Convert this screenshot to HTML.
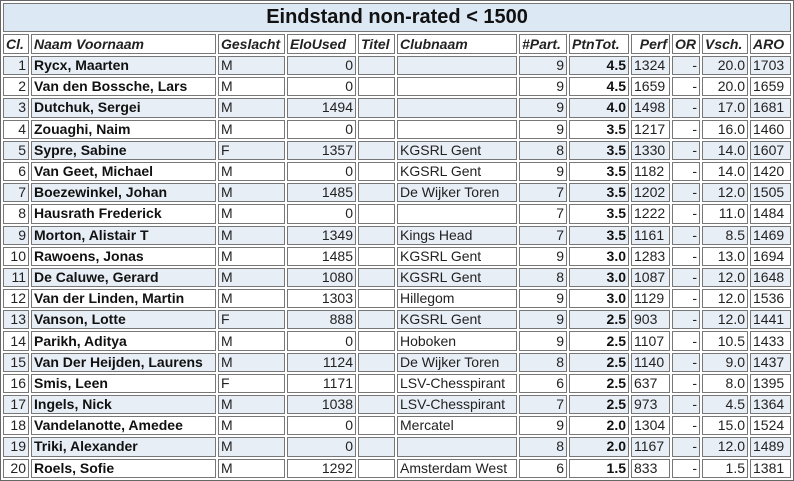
<!DOCTYPE html>
<html><head><meta charset="utf-8"><style>
body{margin:0;background:#fff;}
table{position:absolute;left:0;top:0;width:793px;border:1px solid #666;border-collapse:separate;border-spacing:2px;table-layout:fixed;font-family:"Liberation Sans",Arial,sans-serif;font-size:14px;color:#222;}
td,th{border:1px solid #777;box-sizing:border-box;height:19.2px;padding:0 2px;white-space:nowrap;overflow:hidden;line-height:17px;}
th{font-style:italic;font-weight:bold;text-align:left;background:#fff;height:20px;}
th.r{text-align:right}
.t{background:#dde8f5;font-size:20px;font-style:normal;text-align:center;height:29px;color:#111;}
tr.o td{background:#e8eef6;}
td.n{text-align:right}
td.b{font-weight:bold;color:#111}
</style></head><body>
<table>
<colgroup><col style="width:26px"><col style="width:185px"><col style="width:67px"><col style="width:69px"><col style="width:37px"><col style="width:120px"><col style="width:48px"><col style="width:60px"><col style="width:39px"><col style="width:28px"><col style="width:46px"><col style="width:41px"></colgroup>
<tr><th colspan="12" class="t">Eindstand non-rated &lt; 1500</th></tr>
<tr><th>Cl.</th><th>Naam Voornaam</th><th>Geslacht</th><th>EloUsed</th><th>Titel</th><th>Clubnaam</th><th>#Part.</th><th>PtnTot.</th><th class="r">Perf</th><th>OR</th><th>Vsch.</th><th>ARO</th></tr>
<tr class="o"><td class="n">1</td><td class="b">Rycx, Maarten</td><td>M</td><td class="n">0</td><td></td><td></td><td class="n">9</td><td class="n b">4.5</td><td>1324</td><td class="n">-</td><td class="n">20.0</td><td>1703</td></tr>
<tr><td class="n">2</td><td class="b">Van den Bossche, Lars</td><td>M</td><td class="n">0</td><td></td><td></td><td class="n">9</td><td class="n b">4.5</td><td>1659</td><td class="n">-</td><td class="n">20.0</td><td>1659</td></tr>
<tr class="o"><td class="n">3</td><td class="b">Dutchuk, Sergei</td><td>M</td><td class="n">1494</td><td></td><td></td><td class="n">9</td><td class="n b">4.0</td><td>1498</td><td class="n">-</td><td class="n">17.0</td><td>1681</td></tr>
<tr><td class="n">4</td><td class="b">Zouaghi, Naim</td><td>M</td><td class="n">0</td><td></td><td></td><td class="n">9</td><td class="n b">3.5</td><td>1217</td><td class="n">-</td><td class="n">16.0</td><td>1460</td></tr>
<tr class="o"><td class="n">5</td><td class="b">Sypre, Sabine</td><td>F</td><td class="n">1357</td><td></td><td>KGSRL Gent</td><td class="n">8</td><td class="n b">3.5</td><td>1330</td><td class="n">-</td><td class="n">14.0</td><td>1607</td></tr>
<tr><td class="n">6</td><td class="b">Van Geet, Michael</td><td>M</td><td class="n">0</td><td></td><td>KGSRL Gent</td><td class="n">9</td><td class="n b">3.5</td><td>1182</td><td class="n">-</td><td class="n">14.0</td><td>1420</td></tr>
<tr class="o"><td class="n">7</td><td class="b">Boezewinkel, Johan</td><td>M</td><td class="n">1485</td><td></td><td>De Wijker Toren</td><td class="n">7</td><td class="n b">3.5</td><td>1202</td><td class="n">-</td><td class="n">12.0</td><td>1505</td></tr>
<tr><td class="n">8</td><td class="b">Hausrath Frederick</td><td>M</td><td class="n">0</td><td></td><td></td><td class="n">7</td><td class="n b">3.5</td><td>1222</td><td class="n">-</td><td class="n">11.0</td><td>1484</td></tr>
<tr class="o"><td class="n">9</td><td class="b">Morton, Alistair T</td><td>M</td><td class="n">1349</td><td></td><td>Kings Head</td><td class="n">7</td><td class="n b">3.5</td><td>1161</td><td class="n">-</td><td class="n">8.5</td><td>1469</td></tr>
<tr><td class="n">10</td><td class="b">Rawoens, Jonas</td><td>M</td><td class="n">1485</td><td></td><td>KGSRL Gent</td><td class="n">9</td><td class="n b">3.0</td><td>1283</td><td class="n">-</td><td class="n">13.0</td><td>1694</td></tr>
<tr class="o"><td class="n">11</td><td class="b">De Caluwe, Gerard</td><td>M</td><td class="n">1080</td><td></td><td>KGSRL Gent</td><td class="n">8</td><td class="n b">3.0</td><td>1087</td><td class="n">-</td><td class="n">12.0</td><td>1648</td></tr>
<tr><td class="n">12</td><td class="b">Van der Linden, Martin</td><td>M</td><td class="n">1303</td><td></td><td>Hillegom</td><td class="n">9</td><td class="n b">3.0</td><td>1129</td><td class="n">-</td><td class="n">12.0</td><td>1536</td></tr>
<tr class="o"><td class="n">13</td><td class="b">Vanson, Lotte</td><td>F</td><td class="n">888</td><td></td><td>KGSRL Gent</td><td class="n">9</td><td class="n b">2.5</td><td>903</td><td class="n">-</td><td class="n">12.0</td><td>1441</td></tr>
<tr><td class="n">14</td><td class="b">Parikh, Aditya</td><td>M</td><td class="n">0</td><td></td><td>Hoboken</td><td class="n">9</td><td class="n b">2.5</td><td>1107</td><td class="n">-</td><td class="n">10.5</td><td>1433</td></tr>
<tr class="o"><td class="n">15</td><td class="b">Van Der Heijden, Laurens</td><td>M</td><td class="n">1124</td><td></td><td>De Wijker Toren</td><td class="n">8</td><td class="n b">2.5</td><td>1140</td><td class="n">-</td><td class="n">9.0</td><td>1437</td></tr>
<tr><td class="n">16</td><td class="b">Smis, Leen</td><td>F</td><td class="n">1171</td><td></td><td>LSV-Chesspirant</td><td class="n">6</td><td class="n b">2.5</td><td>637</td><td class="n">-</td><td class="n">8.0</td><td>1395</td></tr>
<tr class="o"><td class="n">17</td><td class="b">Ingels, Nick</td><td>M</td><td class="n">1038</td><td></td><td>LSV-Chesspirant</td><td class="n">7</td><td class="n b">2.5</td><td>973</td><td class="n">-</td><td class="n">4.5</td><td>1364</td></tr>
<tr><td class="n">18</td><td class="b">Vandelanotte, Amedee</td><td>M</td><td class="n">0</td><td></td><td>Mercatel</td><td class="n">9</td><td class="n b">2.0</td><td>1304</td><td class="n">-</td><td class="n">15.0</td><td>1524</td></tr>
<tr class="o"><td class="n">19</td><td class="b">Triki, Alexander</td><td>M</td><td class="n">0</td><td></td><td></td><td class="n">8</td><td class="n b">2.0</td><td>1167</td><td class="n">-</td><td class="n">12.0</td><td>1489</td></tr>
<tr><td class="n">20</td><td class="b">Roels, Sofie</td><td>M</td><td class="n">1292</td><td></td><td>Amsterdam West</td><td class="n">6</td><td class="n b">1.5</td><td>833</td><td class="n">-</td><td class="n">1.5</td><td>1381</td></tr>
</table>
</body></html>
